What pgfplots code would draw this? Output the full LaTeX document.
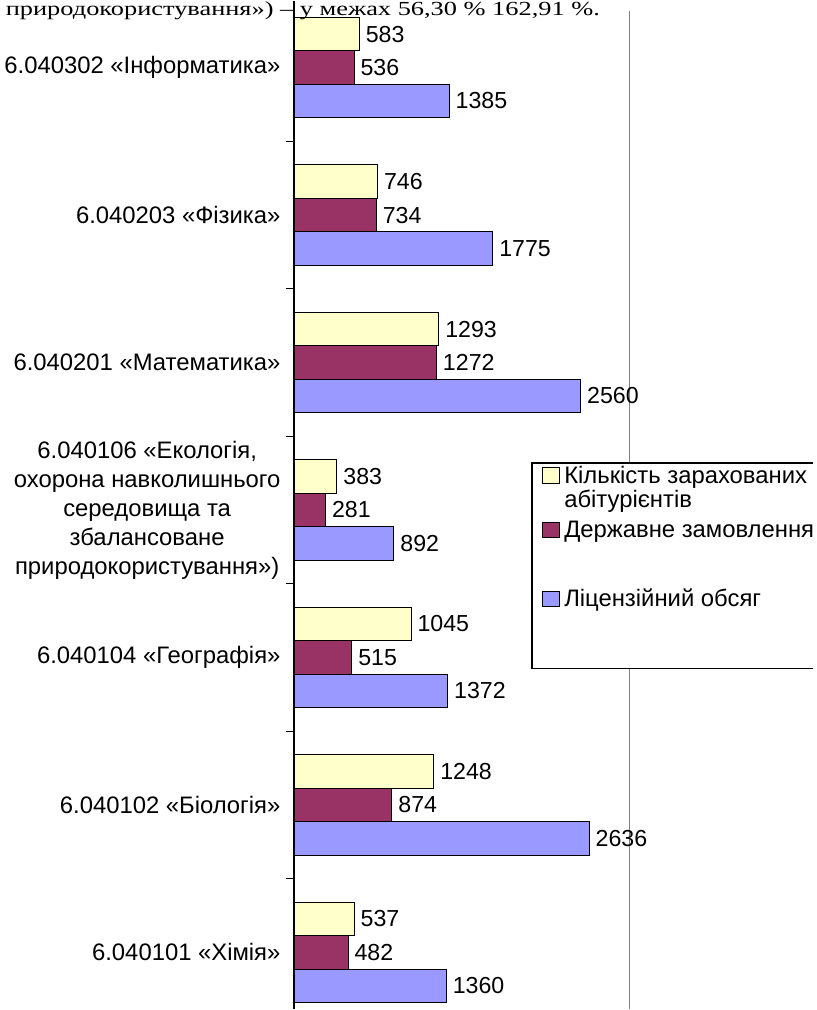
\documentclass[border=0pt]{standalone}
\usepackage{pgfplots}
\pgfplotsset{compat=1.18}
\usepackage{fontspec}
\setmainfont{Liberation Sans}
\newfontfamily\serif{Liberation Serif}
\definecolor{cyel}{HTML}{FFFFCC}
\definecolor{cmar}{HTML}{993366}
\definecolor{cblu}{HTML}{9999FF}
\newcommand{\lf}{\fontsize{17.4}{21.75}\selectfont}
\newcommand{\gf}{\fontsize{17.9}{21.75}\selectfont}
\newcommand{\tf}{\fontsize{17.9}{21.75}\selectfont}
\begin{document}
\begin{tikzpicture}[x=0.75pt,y=0.75pt]
\fill[white] (0,0) rectangle (816,1010);
\begin{axis}[
  at={(261.4,0)}, anchor=south west,
  scale only axis, width=252.2pt, height=757.5pt,
  xbar, bar width=0.2269,
  xmin=0, xmax=3000, ymin=-0.386, ymax=6.4537,
  clip=false,
  axis line style={draw=none},
  xtick=\empty,
  ytick={0,...,6},
  ytick pos=left,
  major tick length=0pt,
  tick align=outside,
  yticklabels={
    {6.040101 «Хімія»},
    {6.040102 «Біологія»},
    {6.040104 «Географія»},
    {6.040106 «Екологія,\\охорона навколишнього\\середовища та\\збалансоване\\природокористування»)},
    {6.040201 «Математика»},
    {6.040203 «Фізика»},
    {6.040302 «Інформатика»}},
  yticklabel style={font=\tf, align=center, xshift=-6.7pt},
  extra y ticks={0.5,1.5,2.5,3.5,4.5,5.5},
  extra y tick labels={},
  extra y tick style={major tick length=6pt, tick style={black, line width=0.8pt}},
  point meta=x,
  nodes near coords,
  nodes near coords style={font=\lf, text=black, anchor=west, inner sep=1pt, xshift=3.5pt},
  /pgf/number format/assume math mode=true,
  /pgf/number format/1000 sep={},
  legend style={at={(rel axis cs:0.7383,0.5416)}, anchor=north west,
    draw=none, fill=none,
    inner xsep=0pt, inner ysep=2pt, row sep=0pt, column sep=3.2pt,
    cells={anchor=base west},
    nodes={font=\gf, inner sep=0pt, text depth=}},
  legend image code/.code={\draw[#1, draw=black, line width=0.8pt] (0pt,0pt) rectangle (12.5pt,11.5pt);},
]
\addplot[fill=cyel, draw=black, line width=0.8pt, bar shift=0.2269] coordinates {
  (537,0) (1248,1) (1045,2) (383,3) (1293,4) (746,5) (583,6)};
\addlegendentry{\rule[-5pt]{0pt}{16pt}Кількість зарахованих}
\addlegendimage{empty legend}
\addlegendentry{\rule[-10.25pt]{0pt}{16pt}абітурієнтів}
\addplot[fill=cmar, draw=black, line width=0.8pt, bar shift=0] coordinates {
  (482,0) (874,1) (515,2) (281,3) (1272,4) (734,5) (536,6)};
\addlegendentry{\rule[-38.75pt]{0pt}{16pt}Державне замовлення}
\addplot[fill=cblu, draw=black, line width=0.8pt, bar shift=-0.2269] coordinates {
  (1360,0) (2636,1) (1372,2) (892,3) (2560,4) (1775,5) (1385,6)};
\addlegendentry{\rule[-32.5pt]{0pt}{16pt}Ліцензійний обсяг}
\draw[black, line width=1pt] (rel axis cs:0,0) -- (rel axis cs:0,1);
\draw[color=black!50, line width=0.8pt] (rel axis cs:1,0) -- (rel axis cs:1,0.990);
\fill[white] (rel axis cs:0.7086,0.3376) rectangle (rel axis cs:1.5442,0.5416);
\draw[black, line width=0.9pt] (rel axis cs:1.5442,0.5416) -- (rel axis cs:0.7086,0.5416) -- (rel axis cs:0.7086,0.3376) -- (rel axis cs:1.5442,0.3376);
\end{axis}
\node[anchor=base west, inner sep=0pt, xscale=1.32, font=\serif\fontsize{15}{18}\selectfont] at (4,995.5) {природокористування») – у межах 56,30 \% 162,91 \%.};
\end{tikzpicture}
\end{document}
